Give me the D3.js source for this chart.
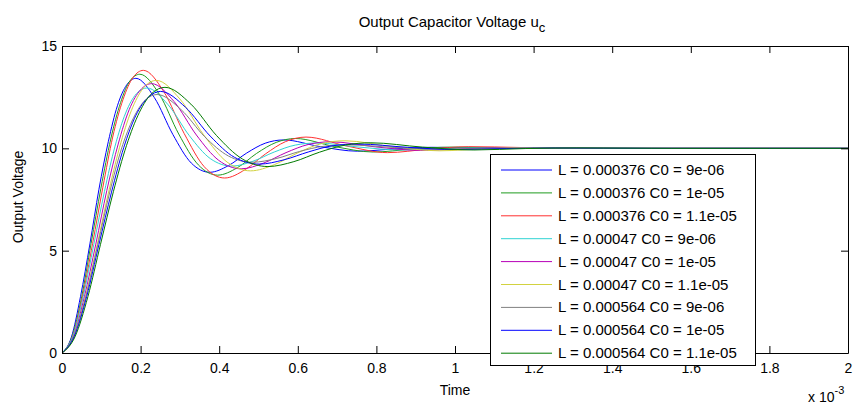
<!DOCTYPE html>
<html>
<head>
<meta charset="utf-8">
<script src="https://cdn.jsdelivr.net/npm/d3@7"></script>
<style>
body { margin: 0; background: #fff; }
svg text { font-family: "Liberation Sans", Arial, sans-serif; fill: #000; }
</style>
</head>
<body>
<svg id="chart" width="856" height="405"></svg>
<script>
// Data: time in ms (axis shows x 10^-3 s), voltage in V
const labels = [
    "L = 0.000376 C0 = 9e-06",
    "L = 0.000376 C0 = 1e-05",
    "L = 0.000376 C0 = 1.1e-05",
    "L = 0.00047 C0 = 9e-06",
    "L = 0.00047 C0 = 1e-05",
    "L = 0.00047 C0 = 1.1e-05",
    "L = 0.000564 C0 = 9e-06",
    "L = 0.000564 C0 = 1e-05",
    "L = 0.000564 C0 = 1.1e-05"
];
const colors = ["#0000ff", "#1f9b1f", "#ff3030", "#2fd3d3", "#b800b8", "#d2d240", "#808080", "#0000ff", "#007a00"];

const s1 = [[0,0],[0.024,0.78],[0.047,2.75],[0.071,5.33],[0.094,8.00],[0.118,10.34],[0.141,12.08],[0.165,13.11],[0.188,13.42],[0.235,12.48],[0.282,10.68],[0.329,9.28],[0.376,8.83],[0.423,9.15],[0.470,9.77],[0.517,10.25],[0.564,10.41],[0.658,10.08],[0.752,9.86],[0.846,9.97],[0.940,10.05],[1.2,10.0],[1.6,10.0],[2.0,10.0]];
const s2 = [[0,0],[0.025,0.77],[0.050,2.74],[0.074,5.35],[0.099,8.05],[0.124,10.45],[0.149,12.23],[0.173,13.30],[0.198,13.62],[0.248,12.63],[0.297,10.70],[0.347,9.19],[0.396,8.69],[0.446,9.05],[0.495,9.75],[0.545,10.29],[0.594,10.48],[0.693,10.09],[0.792,9.82],[0.891,9.96],[0.990,10.06],[1.25,10.0],[1.6,10.0],[2.0,10.0]];
const s3 = [[0,0],[0.026,0.77],[0.052,2.74],[0.078,5.36],[0.104,8.10],[0.129,10.55],[0.155,12.37],[0.181,13.47],[0.207,13.81],[0.259,12.77],[0.311,10.72],[0.362,9.10],[0.414,8.55],[0.466,8.96],[0.518,9.73],[0.569,10.33],[0.621,10.55],[0.725,10.11],[0.828,9.79],[0.932,9.96],[1.035,10.08],[1.3,10.0],[1.6,10.0],[2.0,10.0]];
const s4 = [[0,0],[0.027,0.79],[0.054,2.76],[0.081,5.31],[0.108,7.89],[0.135,10.11],[0.162,11.73],[0.189,12.66],[0.216,12.95],[0.270,12.13],[0.324,10.62],[0.378,9.49],[0.432,9.13],[0.486,9.37],[0.540,9.82],[0.594,10.16],[0.648,10.26],[0.756,10.06],[0.864,9.92],[0.972,9.99],[1.080,10.02],[1.3,10.0],[1.6,10.0],[2.0,10.0]];
const s5 = [[0,0],[0.029,0.78],[0.057,2.75],[0.086,5.32],[0.114,7.94],[0.143,10.21],[0.171,11.89],[0.200,12.86],[0.228,13.16],[0.285,12.29],[0.342,10.65],[0.399,9.41],[0.456,9.00],[0.513,9.28],[0.570,9.79],[0.627,10.19],[0.684,10.32],[0.798,10.07],[0.912,9.90],[1.026,9.98],[1.140,10.03],[1.4,10.0],[1.7,10.0],[2.0,10.0]];
const s6 = [[0,0],[0.030,0.78],[0.060,2.75],[0.090,5.33],[0.120,7.98],[0.150,10.29],[0.180,12.01],[0.210,13.01],[0.240,13.32],[0.300,12.41],[0.360,10.67],[0.420,9.33],[0.480,8.90],[0.540,9.20],[0.600,9.78],[0.660,10.23],[0.720,10.37],[0.840,10.08],[0.960,9.88],[1.080,9.98],[1.200,10.04],[1.45,10.0],[1.7,10.0],[2.0,10.0]];
const s7 = [[0,0],[0.030,0.81],[0.061,2.78],[0.091,5.29],[0.121,7.82],[0.151,9.96],[0.182,11.49],[0.212,12.36],[0.242,12.63],[0.303,11.89],[0.363,10.57],[0.424,9.62],[0.484,9.32],[0.545,9.50],[0.605,9.85],[0.666,10.10],[0.726,10.17],[0.847,10.04],[0.968,9.96],[1.089,10.00],[1.210,10.01],[1.45,10.0],[1.7,10.0],[2.0,10.0]];
const s8 = [[0,0],[0.031,0.80],[0.063,2.77],[0.094,5.30],[0.126,7.86],[0.157,10.03],[0.188,11.61],[0.220,12.50],[0.251,12.78],[0.314,12.01],[0.377,10.60],[0.439,9.56],[0.502,9.23],[0.565,9.44],[0.628,9.83],[0.690,10.13],[0.753,10.21],[0.879,10.05],[1.004,9.94],[1.130,9.99],[1.255,10.02],[1.5,10.0],[1.75,10.0],[2.0,10.0]];
const s9 = [[0,0],[0.033,0.79],[0.066,2.76],[0.098,5.31],[0.131,7.90],[0.164,10.13],[0.197,11.76],[0.229,12.69],[0.262,12.98],[0.328,12.16],[0.393,10.63],[0.459,9.48],[0.524,9.11],[0.590,9.35],[0.655,9.81],[0.721,10.16],[0.786,10.27],[0.917,10.06],[1.048,9.92],[1.179,9.99],[1.310,10.02],[1.55,10.0],[1.8,10.0],[2.0,10.0]];
const series = [s1, s2, s3, s4, s5, s6, s7, s8, s9];

const xTicks = [0, 0.2, 0.4, 0.6, 0.8, 1, 1.2, 1.4, 1.6, 1.8, 2];
const yTicks = [0, 5, 10, 15];

// Setup
const svg = d3.select("#chart");
const plotLeft = 62, plotRight = 848, plotTop = 46, plotBottom = 353;
const tickLen = 7;
const x = d3.scaleLinear().domain([0, 2]).range([plotLeft, plotRight]);
const y = d3.scaleLinear().domain([0, 15]).range([plotBottom, plotTop]);

// Curves
const line = d3.line()
    .x(d => x(d[0]))
    .y(d => y(d[1]))
    .curve(d3.curveMonotoneX);

svg.append("g")
    .selectAll("path")
    .data(series)
    .enter()
    .append("path")
    .attr("d", line)
    .attr("fill", "none")
    .attr("stroke", (d, i) => colors[i])
    .attr("stroke-width", 1);

// Axes (MATLAB style: ticks inside on all four sides)
function styleAxis(g) {
    g.selectAll(".domain").attr("stroke", "#000");
    g.selectAll(".tick line").attr("stroke", "#000");
    g.selectAll("text").attr("font-size", 14).attr("font-family", null);
}

svg.append("g")
    .attr("transform", `translate(0,${plotBottom})`)
    .call(d3.axisBottom(x).tickValues(xTicks).tickFormat(d => d).tickSize(-tickLen).tickSizeOuter(0).tickPadding(10))
    .call(styleAxis);
svg.append("g")
    .attr("transform", `translate(0,${plotTop})`)
    .call(d3.axisTop(x).tickValues(xTicks).tickFormat("").tickSize(-tickLen).tickSizeOuter(0))
    .call(styleAxis);
svg.append("g")
    .attr("transform", `translate(${plotLeft},0)`)
    .call(d3.axisLeft(y).tickValues(yTicks).tickFormat(d => d).tickSize(-tickLen).tickSizeOuter(0).tickPadding(5))
    .call(styleAxis);
svg.append("g")
    .attr("transform", `translate(${plotRight},0)`)
    .call(d3.axisRight(y).tickValues(yTicks).tickFormat("").tickSize(-tickLen).tickSizeOuter(0))
    .call(styleAxis);

// Titles
const title = svg.append("text")
    .attr("x", 452)
    .attr("y", 27)
    .attr("text-anchor", "middle")
    .attr("font-size", 15);
title.append("tspan").text("Output Capacitor Voltage u");
title.append("tspan").attr("dy", 5).attr("font-size", 13).text("c");

svg.append("text")
    .attr("x", 455)
    .attr("y", 395)
    .attr("text-anchor", "middle")
    .attr("font-size", 14)
    .text("Time");

svg.append("text")
    .attr("transform", "translate(23,197) rotate(-90)")
    .attr("text-anchor", "middle")
    .attr("font-size", 14)
    .text("Output Voltage");

const expo = svg.append("text")
    .attr("x", 808)
    .attr("y", 402)
    .attr("font-size", 14);
expo.append("tspan").text("x 10");
expo.append("tspan").attr("dy", -8).attr("font-size", 11).text("-3");

// Legend (drawn over the curves and the x tick labels, as in the original)
const legend = svg.append("g");
legend.append("rect")
    .attr("x", 490.5)
    .attr("y", 154.5)
    .attr("width", 265)
    .attr("height", 211)
    .attr("fill", "#fff")
    .attr("stroke", "#000");

const rows = legend.selectAll("g.row")
    .data(labels)
    .enter()
    .append("g")
    .attr("class", "row")
    .attr("transform", (d, i) => `translate(0,${170 + i * 22.9})`);
rows.append("line")
    .attr("x1", 501).attr("x2", 552)
    .attr("y1", 0).attr("y2", 0)
    .attr("stroke", (d, i) => colors[i])
    .attr("stroke-width", 1);
rows.append("text")
    .attr("x", 558)
    .attr("y", 5)
    .attr("font-size", 15)
    .text(d => d);
</script>
</body>
</html>
